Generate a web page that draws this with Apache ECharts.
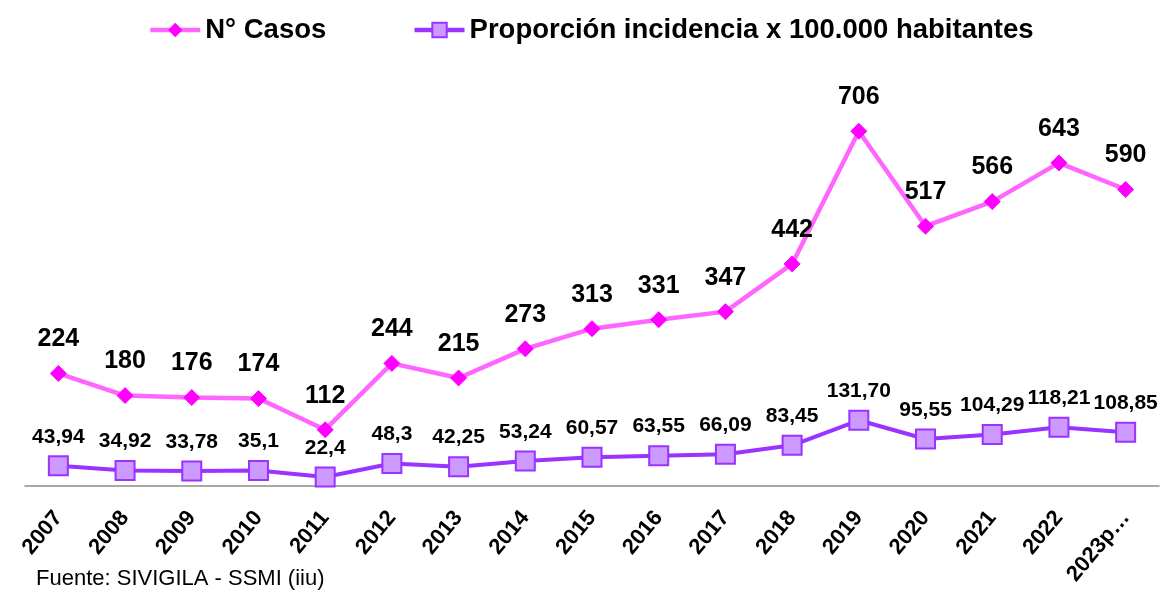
<!DOCTYPE html>
<html><head><meta charset="utf-8">
<script src="https://cdn.jsdelivr.net/npm/echarts@6/dist/echarts.min.js"></script>
<style>html,body{margin:0;padding:0;background:#fff}#c{width:1166px;height:596px}</style>
</head><body><div id="c"></div>
<script>
const categories = ['2007','2008','2009','2010','2011','2012','2013','2014','2015','2016','2017','2018','2019','2020','2021','2022','2023p…'];
const casos = [224,180,176,174,112,244,215,273,313,331,347,442,706,517,566,643,590];
const proporcion = [43.94,34.92,33.78,35.1,22.4,48.3,42.25,53.24,60.57,63.55,66.09,83.45,131.70,95.55,104.29,118.21,108.85];
const proporcionLabels = ['43,94','34,92','33,78','35,1','22,4','48,3','42,25','53,24','60,57','63,55','66,09','83,45','131,70','95,55','104,29','118,21','108,85'];
const seriesNames = ['N° Casos','Proporción incidencia x 100.000 habitantes'];
const sourceText = 'Fuente: SIVIGILA - SSMI (iiu)';

const FONT = 'Liberation Sans, Arial, sans-serif';
const chart = echarts.init(document.getElementById('c'));
chart.setOption({
  animation: false,
  textStyle: {fontFamily: FONT},
  legend: {
    top: 11, left: 143, itemWidth: 50, itemHeight: 18, itemGap: 86,
    lineStyle: {width: 4.5},
    textStyle: {fontSize: 27.5, fontWeight: 'bold', color: '#000', fontFamily: FONT},
    data: seriesNames
  },
  title: {
    text: sourceText, left: 31, bottom: 1,
    textStyle: {fontSize: 22, fontWeight: 'normal', color: '#000', fontFamily: FONT}
  },
  grid: {left: 25, right: 7, top: 84, bottom: 110, containLabel: false},
  xAxis: {
    type: 'category', data: categories, boundaryGap: true,
    axisLine: {lineStyle: {color: '#8c8c8c', width: 1.5}},
    axisTick: {show: false},
    axisLabel: {rotate: 50, margin: 28, fontSize: 22, fontWeight: 'bold', color: '#000', fontFamily: FONT, interval: 0}
  },
  yAxis: [
    {type: 'value', min: 0, max: 800, show: false, splitLine: {show: false}},
    {type: 'value', min: 5, max: 780, show: false, splitLine: {show: false}}
  ],
  series: [
    {
      name: seriesNames[0], type: 'line', data: casos, yAxisIndex: 0,
      symbol: 'diamond', symbolSize: 16,
      lineStyle: {color: '#FF66FF', width: 4.5},
      itemStyle: {color: '#FF00FF', borderColor: '#FF00FF'},
      label: {show: true, position: 'top', distance: 13, fontSize: 25, fontWeight: 'bold', color: '#000', fontFamily: FONT}
    },
    {
      name: seriesNames[1], type: 'line', data: proporcion, yAxisIndex: 1,
      symbol: 'rect', symbolSize: 19,
      lineStyle: {color: '#9933FF', width: 4},
      itemStyle: {color: '#CC99FF', borderColor: '#9933FF', borderWidth: 2},
      label: {show: true, position: 'top', distance: 8, fontSize: 21, fontWeight: 'bold', color: '#000', fontFamily: FONT,
        formatter: p => proporcionLabels[p.dataIndex]}
    }
  ]
});
</script></body></html>
